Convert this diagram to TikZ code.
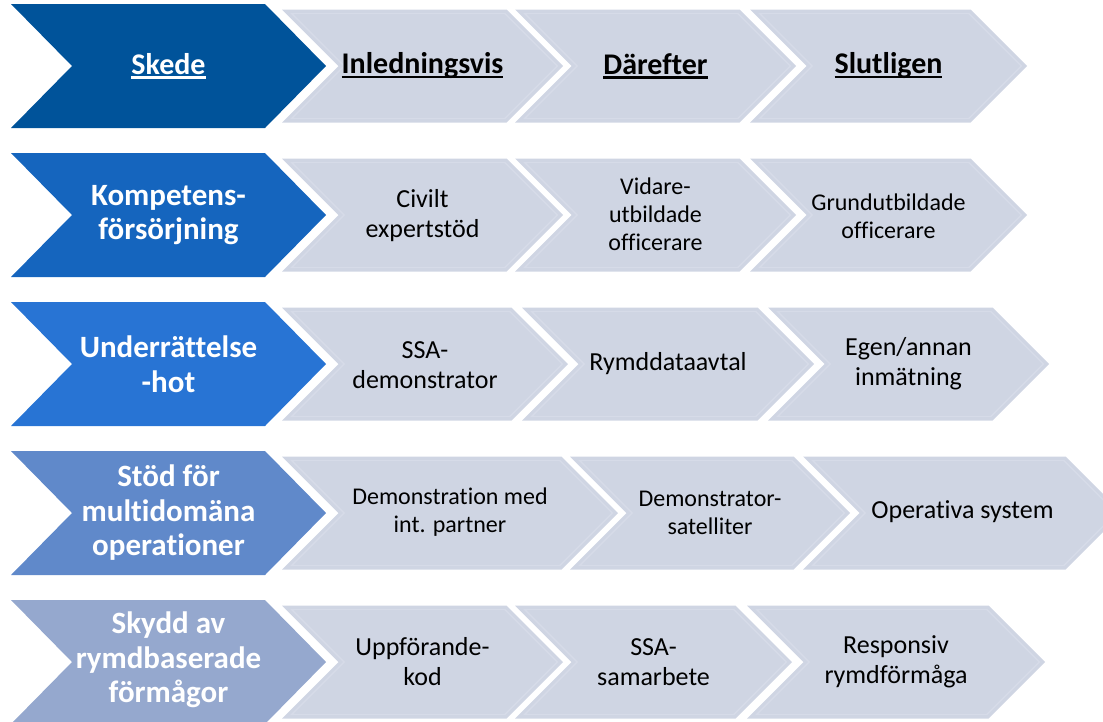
\documentclass[tikz,border=0pt]{standalone}
\usepackage{fontspec}
\setmainfont{Carlito}[Ligatures={NoCommon}]
\definecolor{dkA}{RGB}{0,83,154}
\definecolor{dkB}{RGB}{21,101,190}
\definecolor{dkC}{RGB}{40,116,212}
\definecolor{dkD}{RGB}{96,137,202}
\definecolor{dkE}{RGB}{149,168,206}
\definecolor{lfill}{RGB}{207,213,227}
\definecolor{lline}{RGB}{214,219,232}
\newcommand\myul[1]{\setbox0\hbox{#1}\rlap{\rule[-0.14em]{\wd0}{0.075em}}\box0}
\newcommand\darkchev[2]{%
  \fill[#2] (11,{#1-62}) -- (265,{#1-62}) -- (326,#1) -- (265,{#1+62}) -- (11,{#1+62}) -- (72,#1) -- cycle;}
\newcommand\lightchev[3]{%
  \fill[lfill] (#1,{#3-56.5}) -- ({#2-56.5},{#3-56.5}) -- (#2,#3) -- ({#2-56.5},{#3+56.5}) -- (#1,{#3+56.5}) -- ({#1+56.5},#3) -- cycle;
  \draw[lline,line width=1.4pt,line join=miter] ({#1+9.66},{#3-52.5}) -- ({#2-58.16},{#3-52.5}) -- ({#2-5.66},#3) -- ({#2-58.16},{#3+52.5}) -- ({#1+9.66},{#3+52.5}) -- ({#1+62.16},#3) -- cycle;}
\begin{document}
\begin{tikzpicture}[x=1pt,y=-1pt,
  hd/.style={font=\fontsize{30}{34.5}\selectfont\bfseries,align=center,inner sep=0pt},
  dk/.style={font=\fontsize{31}{34.5}\selectfont\bfseries,align=center,inner sep=0pt,text=white},
  tx/.style={font=\fontsize{26}{30}\selectfont,align=center,inner sep=0pt},
  sm/.style={font=\fontsize{24}{28}\selectfont,align=center,inner sep=0pt}]
\useasboundingbox (0,0) rectangle (1103,721);
% row 1
\darkchev{66}{dkA}
\lightchev{282}{563}{66}
\lightchev{515}{796}{66}
\lightchev{750}{1027}{66}
\node[hd,text=white] (r1a) at (168.5,66) {\myul{Skede}};
\node[hd] (r1b) at (422.5,66) {\myul{Inledningsvis}};
\node[hd] (r1c) at (655.5,66) {\myul{Därefter}};
\node[hd] (r1d) at (888.5,66) {\myul{Slutligen}};
% row 2
\darkchev{215}{dkB}
\lightchev{282}{563}{215}
\lightchev{515}{796}{215}
\lightchev{750}{1027}{215}
\node[dk] (r2a) at (168.5,215) {Kompetens-\\försörjning};
\node[tx] (r2b) at (422.5,216) {Civilt\\expertstöd};
\node[sm] (r2c) at (655.5,214) {Vidare-\\utbildade\\officerare};
\node[sm] (r2d) at (888.5,216) {Grundutbildade\\officerare};
% row 3
\darkchev{364}{dkC}
\lightchev{282}{568}{364}
\lightchev{522}{814}{364}
\lightchev{768}{1049}{364}
\node[dk] (r3a) at (168.5,364) {Underrättelse\\-hot};
\node[tx] (r3b) at (425,365) {SSA-\\demonstrator};
\node[tx] (r3c) at (668,364) {Rymddataavtal};
\node[tx] (r3d) at (908.5,364) {Egen/annan\\inmätning};
% row 4
\darkchev{513}{dkD}
\lightchev{282}{618}{513}
\lightchev{570}{850}{513}
\lightchev{803}{1122}{513}
\node[dk] (r4a) at (168.5,513) {Stöd för\\multidomäna\\operationer};
\node[sm] (r4b) at (450,512) {Demonstration med\\int. partner};
\node[sm] (r4c) at (710,513) {Demonstrator-\\satelliter};
\node[tx] (r4d) at (962.5,512) {Operativa system};
% row 5
\darkchev{662}{dkE}
\lightchev{282}{563}{662}
\lightchev{515}{792}{662}
\lightchev{747}{1045}{662}
\node[dk] (r5a) at (168.5,660) {Skydd av\\rymdbaserade\\förmågor};
\node[tx] (r5b) at (422.5,662) {Uppförande-\\kod};
\node[tx] (r5c) at (653.5,662) {SSA-\\samarbete};
\node[tx] (r5d) at (896,662) {Responsiv\\rymdförmåga};
\end{tikzpicture}
\end{document}
